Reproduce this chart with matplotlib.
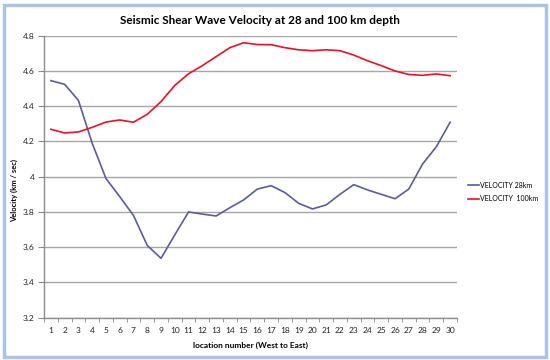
import matplotlib
matplotlib.use("Agg")
import matplotlib.pyplot as plt
from matplotlib.patches import Rectangle
import numpy as np

locations = list(range(1, 31))
vel_28km = [4.545, 4.524, 4.433, 4.19, 3.99, 3.887, 3.78, 3.61, 3.537, 3.67,
            3.80, 3.788, 3.777, 3.824, 3.868, 3.93, 3.949, 3.91, 3.849, 3.817,
            3.84, 3.90, 3.955, 3.925, 3.90, 3.875, 3.93, 4.072, 4.17, 4.309]
vel_100km = [4.269, 4.248, 4.254, 4.28, 4.31, 4.322, 4.309, 4.354, 4.426, 4.518,
             4.584, 4.63, 4.681, 4.732, 4.76, 4.75, 4.749, 4.732, 4.72, 4.715,
             4.72, 4.715, 4.69, 4.658, 4.63, 4.60, 4.58, 4.575, 4.583, 4.573]
yticks = [3.2, 3.4, 3.6, 3.8, 4.0, 4.2, 4.4, 4.6, 4.8]
ytick_labels = ["3.2", "3.4", "3.6", "3.8", "4", "4.2", "4.4", "4.6", "4.8"]

plt.rcParams['font.family'] = ['Lato', 'DejaVu Sans']

fig = plt.figure(figsize=(5.5, 3.6), dpi=100)
fig.patch.set_facecolor('white')

# Excel-like selection frame
fig.patches.append(Rectangle((3.5/550, 3.5/360), 542/550, 352/360, transform=fig.transFigure,
                             fill=False, edgecolor='#a9c4e8', linewidth=2.5))

ax = fig.add_axes([44/550, 1-317.7/360, 413/550, (317.7-35.7)/360])
ax.plot(locations, vel_28km, color='#5c5c96', linewidth=1.2, label='VELOCITY 28km')
ax.plot(locations, vel_100km, color='#e8102a', linewidth=1.2, label='VELOCITY  100km')

ax.set_xlim(0.5, 30.5)
ax.set_ylim(3.2, 4.8)
ax.set_yticks(yticks)
ax.set_yticklabels(ytick_labels)
ax.set_xticks(locations)
ax.set_xticklabels([str(i) for i in locations])
ax.set_xticks(np.arange(0.5, 31, 1), minor=True)
ax.tick_params(axis='x', which='major', length=0, labelsize=6, pad=7, colors='#222222')
ax.tick_params(axis='x', which='minor', length=3, color='#888888', direction='out')
ax.tick_params(axis='y', which='major', length=4, labelsize=6, labelcolor='#222222', color='#888888', pad=3)

ax.grid(axis='y', color='#a6a6a6', linewidth=1.0)
ax.set_axisbelow(True)
for s in ['top', 'right']:
    ax.spines[s].set_visible(False)
for s in ['left', 'bottom']:
    ax.spines[s].set_color('#8c8c8c')
    ax.spines[s].set_linewidth(1.0)

ax.set_xlabel('location number (West to East)', fontsize=6, fontweight='bold')
ax.xaxis.set_label_coords((250-44)/413, -(342-317.7)/282)
ax.set_ylabel('Velocity (km / sec)', fontsize=5.5, fontweight='bold')
ax.yaxis.set_label_coords(-(44-18)/413, (317.7-190)/282)
fig.text(260/550, 1-20/360, 'Seismic Shear Wave Velocity at 28 and 100 km depth',
         ha='center', va='center', fontsize=8.5, fontweight='bold')

leg = ax.legend(loc='center left', bbox_to_anchor=(462/550, 1-192/360),
                bbox_transform=fig.transFigure, frameon=False, fontsize=5,
                handlelength=1.5, handletextpad=0.15, labelspacing=0.9)

fig.savefig('out.png', dpi=100)
